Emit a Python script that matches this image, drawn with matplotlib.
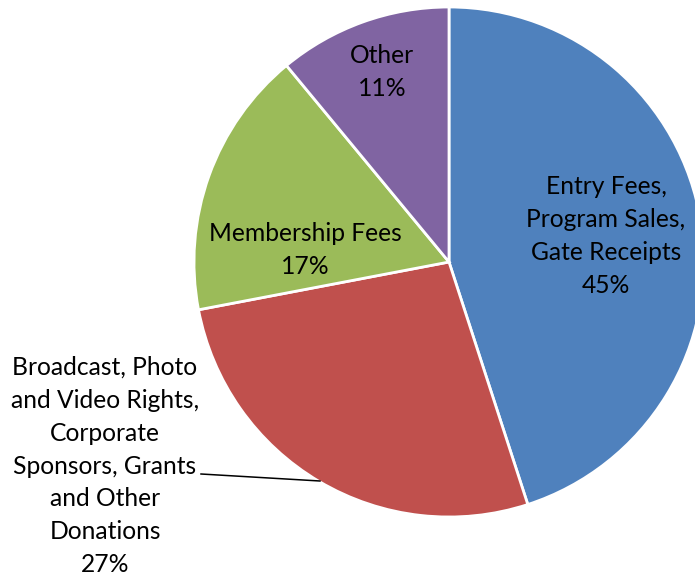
import matplotlib
matplotlib.use("Agg")
import matplotlib.pyplot as plt

categories = ["Entry Fees,\nProgram Sales,\nGate Receipts",
              "Broadcast, Photo\nand Video Rights,\nCorporate\nSponsors, Grants\nand Other\nDonations",
              "Membership Fees",
              "Other"]
shares = [45, 27, 17, 11]
colors = ["#4F81BD", "#C0504D", "#9BBB59", "#8064A2"]

plt.rcParams["font.family"] = ["Lato", "DejaVu Sans"]

W, H = 695, 579
fig = plt.figure(figsize=(W / 100, H / 100), dpi=100)
ax = fig.add_axes([0, 0, 1, 1])

cx, cy, r = 449, H - 262, 255
wedges, _ = ax.pie(shares, colors=colors, startangle=90, counterclock=False,
                   center=(cx, cy), radius=r, frame=True,
                   wedgeprops=dict(edgecolor="white", linewidth=2))
ax.set_xlim(0, W)
ax.set_ylim(0, H)
ax.axis("off")

fs = 17.7
ls = 1.52
# label positions in pixel coords (measured from top)
ax.text(606, H - 236, categories[0] + "\n%d%%" % shares[0], ha="center", va="center",
        fontsize=fs, linespacing=ls)
ax.text(305, H - 250, categories[2] + "\n%d%%" % shares[2], ha="center", va="center",
        fontsize=fs, linespacing=ls)
ax.text(382, H - 72, categories[3] + "\n%d%%" % shares[3], ha="center", va="center",
        fontsize=fs, linespacing=ls)
ax.text(105, H - 466, categories[1] + "\n%d%%" % shares[1], ha="center", va="center",
        fontsize=fs, linespacing=ls)
ax.plot([201, 320], [H - 474, H - 481], color="black", lw=1.1)

fig.savefig("out.png", dpi=100)
